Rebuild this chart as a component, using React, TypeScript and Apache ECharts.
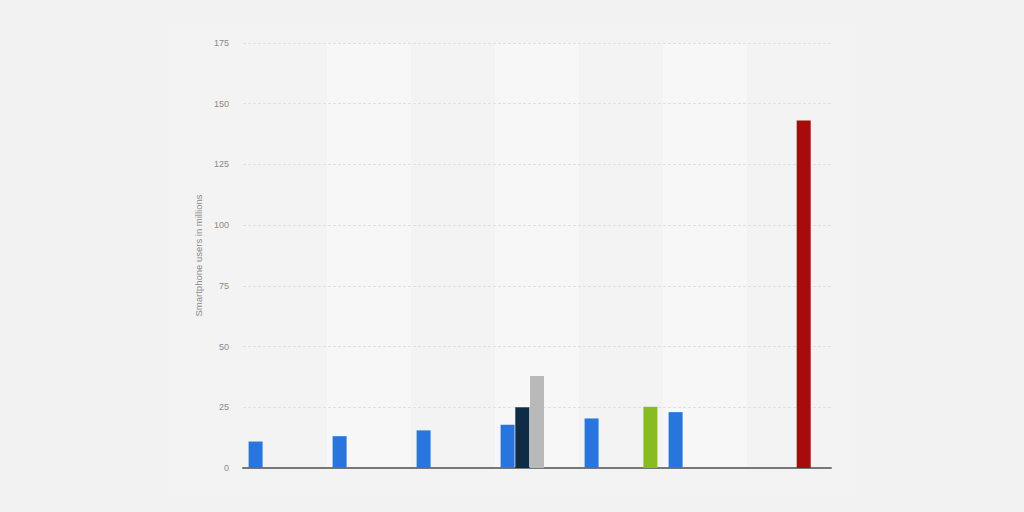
import React, { useEffect, useRef } from 'react'
import * as echarts from 'echarts'

const categories = ['1', '2', '3', '4', '5', '6', '7']

// one series per colour, null where a colour has no bar
const blueValues = [10.9, 13.1, 15.5, 17.8, 20.4, 23.0, null]
const navyValues = [null, null, null, 25.0, null, null, null]
const greyValues = [null, null, null, 37.9, null, null, null]
const redValues = [null, null, null, null, null, null, 143.1]
const greenValues = [null, null, null, null, 25.2, null, null]

const yTicks = [0, 25, 50, 75, 100, 125, 150, 175]

export default function App() {
  const chartRef = useRef<HTMLDivElement>(null)

  useEffect(() => {
    document.body.style.margin = '0'
    if (!chartRef.current) {
      return
    }
    const chart = echarts.init(chartRef.current, null, { renderer: 'svg' })

    const makeBar = (name: string, data: (number | null)[], color: string) => ({
      name,
      type: 'bar',
      data,
      barWidth: 14,
      barGap: '5%',
      z: 3,
      itemStyle: { color },
    })

    chart.setOption({
      animation: false,
      backgroundColor: '#f2f2f2',
      graphic: [
        {
          type: 'rect',
          left: 168,
          top: 25,
          shape: { width: 688, height: 471 },
          style: { fill: '#f3f3f3' },
          silent: true,
          z: -10,
        },
      ],
      grid: {
        left: 243,
        right: 193,
        top: 43,
        bottom: 44,
      },
      xAxis: {
        type: 'category',
        data: categories,
        z: 0,
        axisLabel: { show: false },
        axisTick: { show: false },
        axisLine: {
          lineStyle: { color: '#777777', width: 2 },
        },
        splitArea: {
          show: true,
          areaStyle: { color: ['rgba(242,242,242,0)', '#f7f7f7'] },
        },
      },
      yAxis: {
        type: 'value',
        min: 0,
        max: yTicks[yTicks.length - 1],
        interval: 25,
        z: 1,
        name: 'Smartphone users in millions',
        nameLocation: 'middle',
        nameGap: 35,
        nameTextStyle: {
          color: '#8a8a8a',
          fontSize: 9.5,
          fontFamily: 'Liberation Sans',
        },
        axisLine: { show: false },
        axisTick: { show: false },
        axisLabel: {
          color: '#8a8a8a',
          fontSize: 9,
          margin: 14,
          fontFamily: 'Liberation Sans',
        },
        splitLine: {
          showMinLine: false,
          lineStyle: { color: '#e0e0e0', type: [3, 2], width: 1 },
        },
      },
      series: [
        makeBar('Blue', blueValues, '#2876dd'),
        makeBar('Navy', navyValues, '#102b45'),
        makeBar('Grey', greyValues, '#b9b9b9'),
        makeBar('Red', redValues, '#a70c0c'),
        makeBar('Green', greenValues, '#88bc22'),
      ],
    })

    return () => {
      chart.dispose()
    }
  }, [])

  return (
    <div
      ref={chartRef}
      style={{ width: 1024, height: 512 }}
    />
  )
}
